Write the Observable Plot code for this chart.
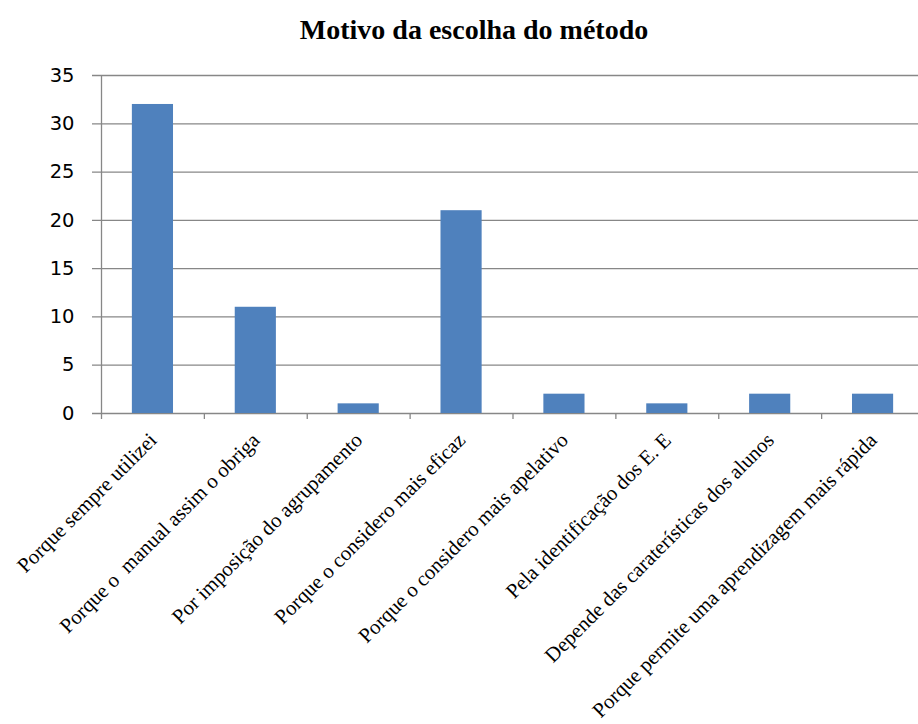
<!DOCTYPE html>
<html><head><meta charset="utf-8">
<script src="https://cdn.jsdelivr.net/npm/d3@7"></script>
<script src="https://cdn.jsdelivr.net/npm/@observablehq/plot@0.6"></script>
<style>
body{margin:0;background:#fff;overflow:hidden;}
#title{font-family:"Liberation Serif","Times New Roman",serif;font-weight:bold;font-size:28px;line-height:28px;height:44px;padding-top:16px;text-align:center;padding-left:30px;color:#000;}
svg text{white-space:pre;}
</style></head>
<body>
<div id="title">Motivo da escolha do método</div>
<div id="chart"></div>
<script>
const categories = [
  "Porque sempre utilizei",
  "Porque o  manual assim o obriga",
  "Por imposição do agrupamento",
  "Porque o considero mais eficaz",
  "Porque o considero mais apelativo",
  "Pela identificação dos E. E",
  "Depende das caraterísticas dos alunos",
  "Porque permite uma aprendizagem mais rápida"
];
const values = [32, 11, 1, 21, 2, 1, 2, 2];
const yTicks = [0, 5, 10, 15, 20, 25, 30, 35];

const data = categories.map((c, i) => ({cat: c, v: values[i]}));
const xRange = [101, 924];
const step = (xRange[1] - xRange[0]) / categories.length;

const chart = Plot.plot({
  width: 918,
  height: 664,
  marginLeft: 101,
  marginRight: 0,
  marginTop: 15,
  marginBottom: 311,
  style: {background: "#fff", overflow: "hidden"},
  x: {type: "band", domain: categories, range: xRange, paddingInner: 0.6, paddingOuter: 0.3, round: false, axis: null},
  y: {domain: [0, 35], range: [353, 15], axis: null},
  marks: [
    Plot.ruleY(yTicks, {y: d => d, stroke: "#878787", strokeWidth: 1.3, insetLeft: -9}),
    Plot.ruleX(categories, {x: d => d, y1: 0, y2: 0, dx: -step / 2, insetBottom: -6, stroke: "#878787", strokeWidth: 1.3}),
    Plot.barY(data, {x: "cat", y: "v", fill: "#4f81bd"}),
    Plot.ruleX([0], {x: () => categories[0], y1: 0, y2: 35, dx: -step / 2, stroke: "#878787", strokeWidth: 1.3}),
    Plot.axisY(yTicks, {tickSize: 0, tickPadding: 27, fontSize: 19.5, fontFamily: "DejaVu Sans", fill: "#000", label: null}),
    Plot.text(categories, {x: d => d, y: () => 0, text: d => d, rotate: -45, textAnchor: "end", lineAnchor: "bottom", dx: 5, dy: 28, fontSize: 20.8, fontFamily: "Liberation Serif", fill: "#000"})
  ]
});
document.getElementById("chart").appendChild(chart);
</script>
</body></html>
